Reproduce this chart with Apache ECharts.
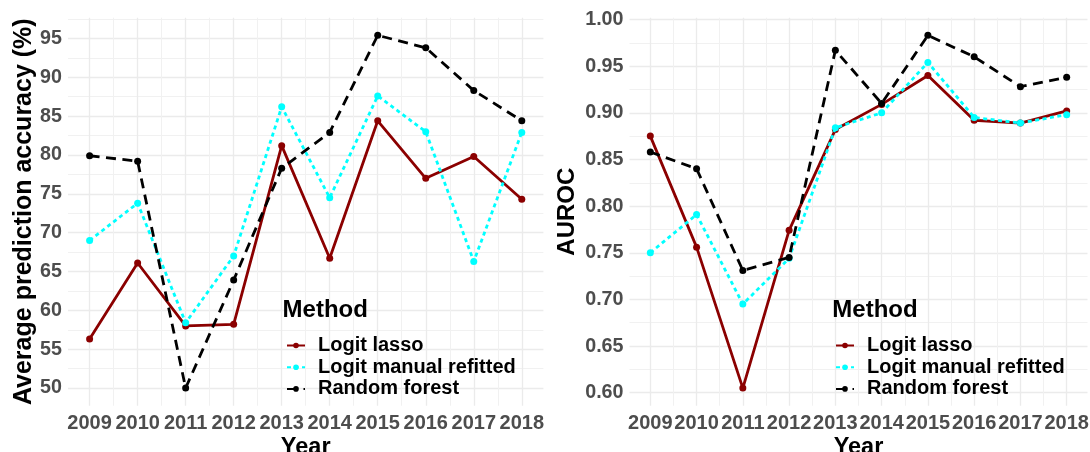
<!DOCTYPE html>
<html>
<head>
<meta charset="utf-8">
<script src="https://cdn.jsdelivr.net/npm/echarts@6/dist/echarts.min.js"></script>
<style>
  html, body { margin: 0; padding: 0; background: #fff; }
  #chart { width: 1090px; height: 452px; }
</style>
</head>
<body>
<div id="chart"></div>
<script>
// ---- data ----
const years = [2009, 2010, 2011, 2012, 2013, 2014, 2015, 2016, 2017, 2018];
const methods = ['Logit lasso', 'Logit manual refitted', 'Random forest'];

const lassoAcc  = [56.3, 66.1, 58.0, 58.2, 81.2, 66.7, 84.4, 77.0, 79.8, 74.3];
const manualAcc = [69.0, 73.8, 58.4, 67.0, 86.2, 74.5, 87.6, 83.0, 66.3, 82.9];
const rfAcc     = [79.9, 79.2, 50.0, 63.9, 78.3, 82.9, 95.4, 93.8, 88.3, 84.4];

const lassoAuc  = [0.875, 0.756, 0.605, 0.774, 0.882, 0.909, 0.940, 0.892, 0.889, 0.902];
const manualAuc = [0.750, 0.791, 0.695, 0.744, 0.884, 0.900, 0.954, 0.895, 0.889, 0.898];
const rfAuc     = [0.858, 0.840, 0.731, 0.745, 0.967, 0.910, 0.983, 0.960, 0.928, 0.938];

const yearTickLabels = years.map(String);
const accTickLabels = ['50', '55', '60', '65', '70', '75', '80', '85', '90', '95'];
const aucTickLabels = ['0.60', '0.65', '0.70', '0.75', '0.80', '0.85', '0.90', '0.95', '1.00'];

// ---- helpers ----
function padExtent(arrs) {
  const all = [].concat(...arrs);
  const lo = Math.min(...all), hi = Math.max(...all);
  const p = (hi - lo) * 0.05;
  return [lo - p, hi + p];
}
function pairs(xs, ys) { return xs.map((x, i) => [x, ys[i]]); }
function labelFmt(list, digits) {
  return function (v) {
    const s = digits == null ? String(Math.round(v)) : v.toFixed(digits);
    const ok = list.indexOf(s) >= 0 && Math.abs(parseFloat(s) - v) < 1e-6;
    return ok ? s : '';
  };
}

const FONT = '"Liberation Sans", Arial, sans-serif';
const GRID_MAJOR = '#ebebeb';
const GRID_MINOR = '#f1f1f1';
const colors = ['#8B0000', '#00FFFF', '#000000'];
const dashes = ['solid', [4, 3.5], [10, 6.5]];

const xExt = padExtent([years]);
const accExt = padExtent([lassoAcc, manualAcc, rfAcc]);
const aucExt = padExtent([lassoAuc, manualAuc, rfAuc]);

function xAxis(gridIndex) {
  return {
    type: 'value', gridIndex, min: xExt[0], max: xExt[1], splitNumber: 9,
    axisLine: { show: false }, axisTick: { show: false },
    axisLabel: { formatter: labelFmt(yearTickLabels), color: '#4D4D4D', fontWeight: 'bold',
      fontSize: 20, fontFamily: FONT, margin: 7.5 },
    splitLine: { show: true, showMinLine: false, showMaxLine: false, lineStyle: { color: GRID_MAJOR, width: 1.3 } },
    minorTick: { show: false, splitNumber: 2 },
    minorSplitLine: { show: true, lineStyle: { color: GRID_MINOR, width: 1 } },
    name: 'Year', nameLocation: 'middle', nameGap: 29.5, nameMoveOverlap: false,
    nameTextStyle: { color: '#000', fontWeight: 'bold', fontSize: 23.5, fontFamily: FONT }
  };
}
function yAxis(gridIndex, ext, list, digits, name, nameGap, nameSize) {
  return {
    type: 'value', gridIndex, min: ext[0], max: ext[1], splitNumber: 8,
    axisLine: { show: false }, axisTick: { show: false },
    axisLabel: { formatter: labelFmt(list, digits), color: '#4D4D4D', fontWeight: 'bold',
      fontSize: 19.7, fontFamily: FONT, margin: 6 },
    splitLine: { show: true, showMinLine: false, showMaxLine: false, lineStyle: { color: GRID_MAJOR, width: 1.3 } },
    minorTick: { show: false, splitNumber: 2 },
    minorSplitLine: { show: true, lineStyle: { color: GRID_MINOR, width: 1 } },
    name, nameLocation: 'middle', nameGap,
    nameTextStyle: { color: '#000', fontWeight: 'bold', fontSize: nameSize, fontFamily: FONT }
  };
}
function series(idx, data, gridIdx) {
  return {
    type: 'line', name: methods[idx], xAxisIndex: gridIdx, yAxisIndex: gridIdx,
    data: pairs(years, data), symbol: 'circle', symbolSize: 7, showSymbol: true,
    itemStyle: { color: colors[idx] },
    lineStyle: { color: colors[idx], width: 2.8, type: dashes[idx] },
    animation: false, z: 2 + idx
  };
}
function legend(left) {
  return {
    data: methods, orient: 'vertical', left, top: 335, padding: 0,
    itemWidth: 18, itemHeight: 7, itemGap: 0.7, selectedMode: false, z: 20,
    textStyle: { color: '#000', fontWeight: 'bold', fontSize: 20, fontFamily: FONT,
      lineHeight: 21, padding: [0, 0, 0, 8] }
  };
}

const chart = echarts.init(document.getElementById('chart'), null, { renderer: 'canvas' });
chart.setOption({
  animation: false,
  backgroundColor: '#ffffff',
  grid: [
    { left: 68, top: 17.7, width: 475.4, height: 388, containLabel: false, outerBoundsMode: 'none' },
    { left: 629.5, top: 17.7, width: 458, height: 388, containLabel: false, outerBoundsMode: 'none' }
  ],
  xAxis: [xAxis(0), xAxis(1)],
  yAxis: [
    yAxis(0, accExt, accTickLabels, null, 'Average prediction accuracy (%)', 31, 25),
    yAxis(1, aucExt, aucTickLabels, 2, 'AUROC', 50, 24)
  ],
  legend: [legend(286), legend(835)],
  graphic: [
    { type: 'text', x: 282.6, y: 310.5, z: 100, style: { text: 'Method', fill: '#000', fontWeight: 'bold',
      fontSize: 24, fontFamily: FONT, verticalAlign: 'middle', align: 'left' } },
    { type: 'text', x: 832.3, y: 310.5, z: 100, style: { text: 'Method', fill: '#000', fontWeight: 'bold',
      fontSize: 24, fontFamily: FONT, verticalAlign: 'middle', align: 'left' } }
  ],
  series: [
    series(0, lassoAcc, 0), series(1, manualAcc, 0), series(2, rfAcc, 0),
    series(0, lassoAuc, 1), series(1, manualAuc, 1), series(2, rfAuc, 1)
  ]
});
</script>
</body>
</html>
